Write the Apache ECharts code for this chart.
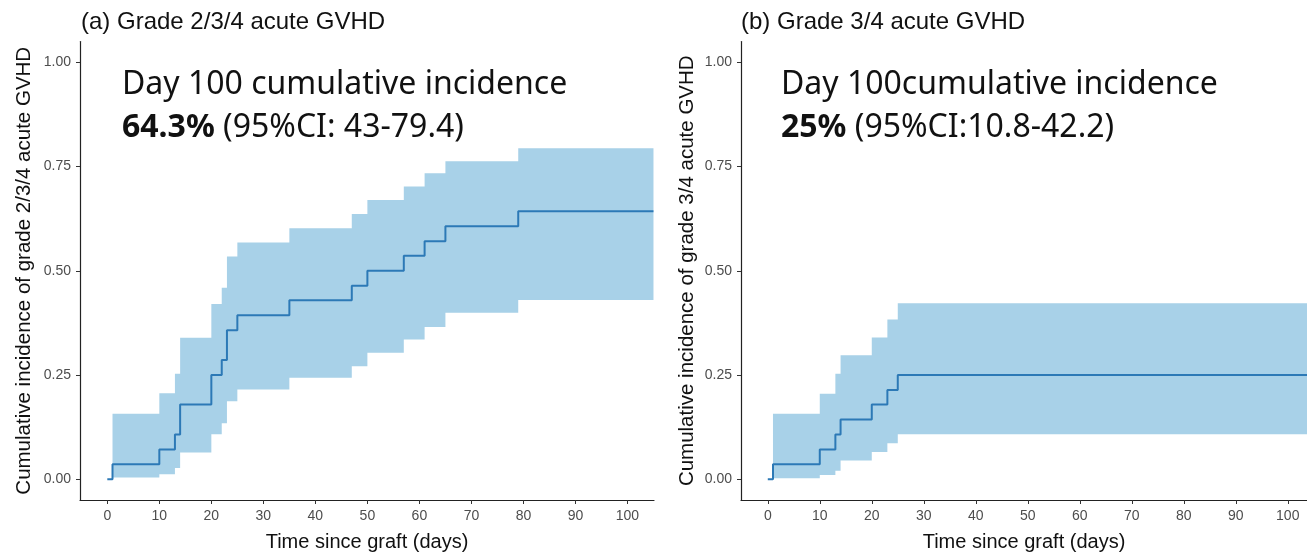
<!DOCTYPE html>
<html>
<head>
<meta charset="utf-8">
<script src="https://cdn.jsdelivr.net/npm/echarts@6/dist/echarts.min.js"></script>
<style>
  html, body { margin: 0; padding: 0; background: #fff; }
  #chart { width: 1307px; height: 552px; }
</style>
</head>
<body>
<div id="chart"></div>
<script>
// ticks
var xTicks = [0, 10, 20, 30, 40, 50, 60, 70, 80, 90, 100];
var yTicks = [0, 0.25, 0.5, 0.75, 1];

// (a) grade 2/3/4 - cumulative incidence (step changes at event days)
var daysA = [0, 1, 10, 13, 14, 20, 22, 23, 25, 35, 47, 50, 57, 61, 65, 79, 105];
var incA = [0, 0.036, 0.071, 0.107, 0.179, 0.25, 0.286, 0.357, 0.393, 0.429, 0.464, 0.5, 0.536, 0.571, 0.607, 0.643, 0.643];
// 95% CI band
var ciDaysA = [1, 10, 13, 14, 20, 22, 23, 25, 35, 47, 50, 57, 61, 65, 79, 105];
var lowA = [0.004, 0.012, 0.027, 0.064, 0.108, 0.134, 0.187, 0.215, 0.243, 0.271, 0.303, 0.335, 0.365, 0.399, 0.43, 0.43];
var upA = [0.157, 0.206, 0.253, 0.339, 0.42, 0.459, 0.534, 0.568, 0.602, 0.636, 0.67, 0.702, 0.734, 0.763, 0.794, 0.794];

// (b) grade 3/4
var daysB = [0, 1, 10, 13, 14, 20, 23, 25, 110];
var incB = [0, 0.036, 0.071, 0.107, 0.143, 0.179, 0.214, 0.25, 0.25];
var ciDaysB = [1, 10, 13, 14, 20, 23, 25, 110];
var lowB = [0.002, 0.01, 0.02, 0.045, 0.065, 0.086, 0.108, 0.108];
var upB = [0.157, 0.205, 0.253, 0.297, 0.34, 0.383, 0.422, 0.422];

var lineColor = '#2c79b6';
var bandColor = '#a8d1e8';
var txt = '#4d4d4d';

function pairs(xs, ys) {
  return xs.map(function (x, i) { return [x, ys[i]]; });
}

function xAxisOf(idx, min, max) {
  return {
    type: 'value', gridIndex: idx, min: min, max: max,
    splitLine: { show: false },
    axisLine: { onZero: false, lineStyle: { color: '#222', width: 1.2 } },
    axisTick: { customValues: xTicks, length: 4, lineStyle: { color: '#333' } },
    axisLabel: { customValues: xTicks, color: txt, fontSize: 14, margin: 9, fontFamily: 'Liberation Sans' },
    name: 'Time since graft (days)', nameLocation: 'middle', nameGap: 32,
    nameTextStyle: { color: '#111', fontSize: 20, fontFamily: 'Liberation Sans' }
  };
}
function yAxisOf(idx, name, gap) {
  return {
    type: 'value', gridIndex: idx, min: -0.05, max: 1.05,
    splitLine: { show: false },
    axisLine: { show: true, onZero: false, lineStyle: { color: '#222', width: 1.2 } },
    axisTick: { show: true, customValues: yTicks, length: 4, lineStyle: { color: '#333' } },
    axisLabel: {
      customValues: yTicks, color: txt, fontSize: 14, margin: 9, fontFamily: 'Liberation Sans',
      formatter: function (v) { return v.toFixed(2); }
    },
    name: name, nameLocation: 'middle', nameGap: gap, nameRotate: 90,
    nameTextStyle: { color: '#111', fontSize: 20.5, fontFamily: 'Liberation Sans' }
  };
}

// CI band as one step-shaped polygon, mapped through the axes
function bandSeries(idx, days, low, up) {
  return {
    type: 'custom', xAxisIndex: idx, yAxisIndex: idx, silent: true, z: 1,
    data: [[days[0], low[0]]],
    renderItem: function (params, api) {
      var cs = params.coordSys;
      var xMax = cs.x + cs.width;
      function pt(x, y) {
        var p = api.coord([x, y]);
        return [Math.min(p[0], xMax), p[1]];
      }
      var top = [], bot = [];
      for (var i = 0; i < days.length; i++) {
        var next = i < days.length - 1 ? days[i + 1] : days[i];
        top.push(pt(days[i], up[i]), pt(next, up[i]));
        bot.push(pt(days[i], low[i]), pt(next, low[i]));
      }
      return {
        type: 'polygon',
        shape: { points: top.concat(bot.reverse()) },
        style: { fill: bandColor }
      };
    }
  };
}
function curveSeries(idx, days, inc) {
  return {
    type: 'line', xAxisIndex: idx, yAxisIndex: idx, step: 'end',
    symbol: 'none', z: 5,
    lineStyle: { color: lineColor, width: 2 },
    data: pairs(days, inc)
  };
}

var chart = echarts.init(document.getElementById('chart'));
var bigFont = 'Noto Sans';
var bigSize = 32;
chart.setOption({
  animation: false,
  grid: [
    { left: 80, top: 41.5, width: 574, height: 458.5, outerBoundsMode: 'none', containLabel: false },
    { left: 741, top: 41.5, width: 566, height: 458.5, outerBoundsMode: 'none', containLabel: false }
  ],
  xAxis: [xAxisOf(0, -5.25, 105.1), xAxisOf(1, -5.15, 103.7)],
  yAxis: [
    yAxisOf(0, 'Cumulative incidence of grade 2/3/4 acute GVHD', 45),
    yAxisOf(1, 'Cumulative incidence of grade 3/4 acute GVHD', 43)
  ],
  series: [
    bandSeries(0, ciDaysA, lowA, upA),
    curveSeries(0, daysA, incA),
    bandSeries(1, ciDaysB, lowB, upB),
    curveSeries(1, daysB, incB)
  ],
  graphic: [
    { type: 'text', z: 100, left: 81, top: 10, style: { text: '(a) Grade 2/3/4 acute GVHD', fontSize: 24, fontFamily: 'Liberation Sans', fill: '#111' } },
    { type: 'text', z: 100, left: 741, top: 10, style: { text: '(b) Grade 3/4 acute GVHD', fontSize: 24, fontFamily: 'Liberation Sans', fill: '#111' } },
    { type: 'text', z: 100, left: 122, top: 69, style: { text: 'Day 100 cumulative incidence', fontSize: bigSize, fontFamily: bigFont, fill: '#111' } },
    {
      type: 'text', z: 100, left: 122, top: 112,
      style: {
        text: '{b|64.3%} (95%CI: 43-79.4)', fontSize: bigSize, fontFamily: bigFont, fill: '#111',
        rich: { b: { fontSize: bigSize, fontFamily: bigFont, fontWeight: 'bold', fill: '#111' } }
      }
    },
    { type: 'text', z: 100, left: 781, top: 69, style: { text: 'Day 100cumulative incidence', fontSize: bigSize, fontFamily: bigFont, fill: '#111' } },
    {
      type: 'text', z: 100, left: 781, top: 112,
      style: {
        text: '{b|25%} (95%CI:10.8-42.2)', fontSize: bigSize, fontFamily: bigFont, fill: '#111',
        rich: { b: { fontSize: bigSize, fontFamily: bigFont, fontWeight: 'bold', fill: '#111' } }
      }
    }
  ]
});
</script>
</body>
</html>
